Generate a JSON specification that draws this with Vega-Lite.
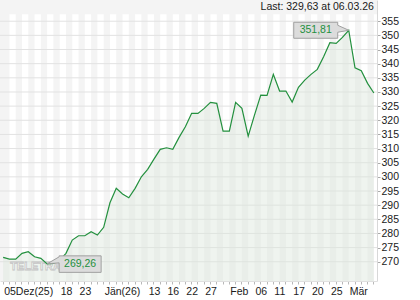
{
  "$schema": "https://vega.github.io/schema/vega-lite/v6.json",
  "width": 377,
  "height": 281,
  "autosize": {"type": "none"},
  "padding": {"left": 0, "top": 0, "right": 43, "bottom": 19},
  "background": "#ffffff",
  "config": {
    "view": {"fill": "#f4f4f4", "stroke": null},
    "font": "Liberation Sans",
    "axis": {"labelOverlap": false},
    "axisY": {"labelOverlap": false, "grid": false, "tickSize": 3, "tickColor": "#aaaaaa", "domainColor": "#d8d8d8", "labelPadding": 1, "labelFontSize": 10.5, "labelColor": "#1a1a1a", "title": null},
    "axisX": {"labelOverlap": false, "grid": false, "tickSize": 3, "tickColor": "#b8b8b8", "domainColor": "#e0e0e0", "labelAngle": 0, "labelAlign": "left", "labelOffset": 1, "labelPadding": 2, "labelFontSize": 10.5, "labelColor": "#1a1a1a", "bandPosition": 0.5, "title": null},
    "locale": {"number": {"decimal": ",", "thousands": ".", "grouping": [3], "currency": ["", " €"]}}
  },
  "data": {"values": [
    {"date": "2025-12-05", "close": 271.55},
    {"date": "2025-12-08", "close": 270.95},
    {"date": "2025-12-09", "close": 270.95},
    {"date": "2025-12-10", "close": 272.97},
    {"date": "2025-12-11", "close": 273.53},
    {"date": "2025-12-12", "close": 271.77},
    {"date": "2025-12-15", "close": 271.20},
    {"date": "2025-12-16", "close": 269.26},
    {"date": "2025-12-17", "close": 269.43},
    {"date": "2025-12-18", "close": 270.60},
    {"date": "2025-12-19", "close": 272.97},
    {"date": "2025-12-22", "close": 277.67},
    {"date": "2025-12-23", "close": 279.19},
    {"date": "2025-12-29", "close": 279.19},
    {"date": "2025-12-30", "close": 280.60},
    {"date": "2025-12-31", "close": 279.43},
    {"date": "2026-01-02", "close": 282.16},
    {"date": "2026-01-05", "close": 290.85},
    {"date": "2026-01-06", "close": 295.94},
    {"date": "2026-01-07", "close": 293.92},
    {"date": "2026-01-08", "close": 292.61},
    {"date": "2026-01-09", "close": 295.94},
    {"date": "2026-01-12", "close": 300.04},
    {"date": "2026-01-13", "close": 302.65},
    {"date": "2026-01-14", "close": 306.29},
    {"date": "2026-01-15", "close": 309.72},
    {"date": "2026-01-16", "close": 310.28},
    {"date": "2026-01-20", "close": 309.72},
    {"date": "2026-01-21", "close": 313.96},
    {"date": "2026-01-22", "close": 317.70},
    {"date": "2026-01-23", "close": 322.44},
    {"date": "2026-01-26", "close": 322.44},
    {"date": "2026-01-27", "close": 324.20},
    {"date": "2026-01-28", "close": 326.33},
    {"date": "2026-01-29", "close": 325.97},
    {"date": "2026-01-30", "close": 316.18},
    {"date": "2026-02-02", "close": 316.18},
    {"date": "2026-02-03", "close": 326.33},
    {"date": "2026-02-04", "close": 324.20},
    {"date": "2026-02-05", "close": 314.42},
    {"date": "2026-02-06", "close": 321.84},
    {"date": "2026-02-09", "close": 328.90},
    {"date": "2026-02-10", "close": 328.80},
    {"date": "2026-02-11", "close": 336.22},
    {"date": "2026-02-12", "close": 330.32},
    {"date": "2026-02-13", "close": 330.32},
    {"date": "2026-02-17", "close": 326.43},
    {"date": "2026-02-18", "close": 331.63},
    {"date": "2026-02-19", "close": 334.20},
    {"date": "2026-02-20", "close": 336.22},
    {"date": "2026-02-23", "close": 337.99},
    {"date": "2026-02-24", "close": 342.44},
    {"date": "2026-02-25", "close": 347.39},
    {"date": "2026-02-26", "close": 347.17},
    {"date": "2026-02-27", "close": 349.29},
    {"date": "2026-03-02", "close": 351.81},
    {"date": "2026-03-03", "close": 338.55},
    {"date": "2026-03-04", "close": 337.49},
    {"date": "2026-03-05", "close": 333.04},
    {"date": "2026-03-06", "close": 329.63}
  ]},
  "layer": [
    {
      "transform": [
        {"window": [{"op": "row_number", "as": "rn"}], "sort": [{"field": "date"}]},
        {"filter": "datum.rn % 2 == 0"}
      ],
      "mark": {"type": "rect", "color": "#ffffff", "xOffset": 3.14, "clip": true},
      "encoding": {
        "x": {"field": "date", "type": "ordinal", "scale": {"type": "band", "paddingInner": 0, "paddingOuter": 0},
          "axis": {"orient": "bottom", "labelOverlap": false, "labelExpr": "datum.value=='2025-12-05'?'05Dez(25)':datum.value=='2025-12-18'?'18':datum.value=='2025-12-23'?'23':datum.value=='2026-01-02'?'Jän(26)':datum.value=='2026-01-13'?'13':datum.value=='2026-01-16'?'16':datum.value=='2026-01-22'?'22':datum.value=='2026-01-27'?'27':datum.value=='2026-02-02'?'Feb':datum.value=='2026-02-06'?'06':datum.value=='2026-02-11'?'11':datum.value=='2026-02-17'?'17':datum.value=='2026-02-20'?'20':datum.value=='2026-02-25'?'25':datum.value=='2026-03-02'?'Mär':''"}
        },
        "y": {"datum": 357.5, "type": "quantitative", "scale": {"domain": [263.2, 362.5], "nice": false, "zero": false},
          "axis": {"orient": "right", "labelOverlap": false, "labelSeparation": 0, "tickCount": 20, "values": [270, 275, 280, 285, 290, 295, 300, 305, 310, 315, 320, 325, 330, 335, 340, 345, 350, 355]}
        },
        "y2": {"datum": 263.2}
      }
    },
    {
      "data": {"values": [
        {"g": 270}, {"g": 275}, {"g": 280}, {"g": 285}, {"g": 290}, {"g": 295},
        {"g": 300}, {"g": 305}, {"g": 310}, {"g": 315}, {"g": 320}, {"g": 325},
        {"g": 330}, {"g": 335}, {"g": 340}, {"g": 345}, {"g": 350}, {"g": 355}
      ]},
      "mark": {"type": "rule", "color": "#e2e2e2", "strokeWidth": 1},
      "encoding": {"y": {"field": "g", "type": "quantitative",
        "axis": {"orient": "right", "labelOverlap": false, "labelSeparation": 0, "tickCount": 20, "values": [270, 275, 280, 285, 290, 295, 300, 305, 310, 315, 320, 325, 330, 335, 340, 345, 350, 355]}}}
    },
    {
      "mark": {"type": "area", "color": "#dbe6db", "opacity": 0.45},
      "encoding": {
        "x": {"field": "date", "type": "ordinal", "axis": {"orient": "bottom"}},
        "y": {"field": "close", "type": "quantitative", "axis": {"orient": "right", "labelOverlap": false}},
        "y2": {"datum": 263.2}
      }
    },
    {
      "data": {"values": [{"wm": "TELETRADER"}]},
      "mark": {"type": "text", "align": "left", "baseline": "middle", "dx": 7, "fontSize": 11, "fontWeight": "bold", "fill": "#ffffff", "stroke": "#c4c4c4", "strokeWidth": 0.8},
      "encoding": {
        "x": {"datum": "2025-12-05", "type": "ordinal", "axis": {"orient": "bottom"}},
        "y": {"datum": 268, "type": "quantitative", "axis": {"orient": "right", "labelOverlap": false}},
        "text": {"field": "wm"}
      }
    },
    {
      "mark": {"type": "line", "color": "#23903e", "strokeWidth": 1.2},
      "encoding": {
        "x": {"field": "date", "type": "ordinal", "axis": {"orient": "bottom"}},
        "y": {"field": "close", "type": "quantitative", "axis": {"orient": "right", "labelOverlap": false}}
      }
    },
    {
      "transform": [
        {"joinaggregate": [{"op": "max", "field": "close", "as": "mx"}]},
        {"filter": "datum.close == datum.mx"}
      ],
      "mark": {"type": "point", "shape": "M-55,-8H-11V-5L0,0L-11,2V8H-55Z", "size": 4, "filled": true, "fill": "#dcdcdc", "stroke": "#a0a0a0", "strokeWidth": 1, "opacity": 1},
      "encoding": {
        "x": {"field": "date", "type": "ordinal", "axis": {"orient": "bottom"}},
        "y": {"field": "close", "type": "quantitative", "axis": {"orient": "right", "labelOverlap": false}}
      }
    },
    {
      "transform": [
        {"joinaggregate": [{"op": "max", "field": "close", "as": "mx"}]},
        {"filter": "datum.close == datum.mx"}
      ],
      "mark": {"type": "text", "dx": -33, "dy": 0, "align": "center", "baseline": "middle", "fontSize": 10.5, "fontWeight": "normal", "color": "#23903e"},
      "encoding": {
        "x": {"field": "date", "type": "ordinal", "axis": {"orient": "bottom"}},
        "y": {"field": "close", "type": "quantitative", "axis": {"orient": "right", "labelOverlap": false}},
        "text": {"field": "close", "type": "quantitative", "format": ".2f"}
      }
    },
    {
      "transform": [
        {"joinaggregate": [{"op": "min", "field": "close", "as": "mn"}]},
        {"filter": "datum.close == datum.mn"}
      ],
      "mark": {"type": "point", "shape": "M0,0L12,-7V-8H54V8.5H12V-1Z", "size": 4, "filled": true, "fill": "#dcdcdc", "stroke": "#a0a0a0", "strokeWidth": 1, "opacity": 1},
      "encoding": {
        "x": {"field": "date", "type": "ordinal", "axis": {"orient": "bottom"}},
        "y": {"field": "close", "type": "quantitative", "axis": {"orient": "right", "labelOverlap": false}}
      }
    },
    {
      "transform": [
        {"joinaggregate": [{"op": "min", "field": "close", "as": "mn"}]},
        {"filter": "datum.close == datum.mn"}
      ],
      "mark": {"type": "text", "dx": 33, "dy": 0.5, "align": "center", "baseline": "middle", "fontSize": 10.5, "fontWeight": "normal", "color": "#23903e"},
      "encoding": {
        "x": {"field": "date", "type": "ordinal", "axis": {"orient": "bottom"}},
        "y": {"field": "close", "type": "quantitative", "axis": {"orient": "right", "labelOverlap": false}},
        "text": {"field": "close", "type": "quantitative", "format": ".2f"}
      }
    },
    {
      "data": {"values": [{"label": "Last: 329,63 at 06.03.26"}]},
      "mark": {"type": "text", "align": "right", "baseline": "middle", "fontSize": 10.5, "fontWeight": "normal", "color": "#1a1a1a"},
      "encoding": {
        "x": {"datum": "2026-03-06", "type": "ordinal", "axis": {"orient": "bottom"}},
        "y": {"datum": 360, "type": "quantitative", "axis": {"orient": "right", "labelOverlap": false}},
        "text": {"field": "label"}
      }
    }
  ]
}
